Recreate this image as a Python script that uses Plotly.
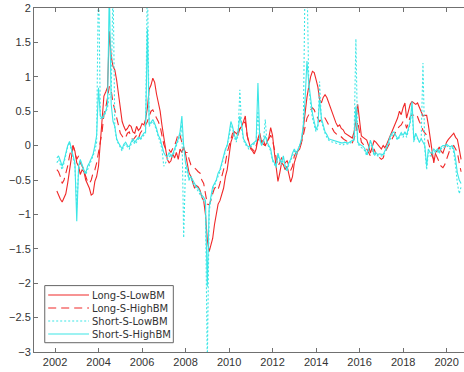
import pandas as pd
import plotly.graph_objects as go

# Month-end observation dates, Jan 2002 .. Aug 2020
dates = pd.date_range("2002-01-31", "2020-08-31", freq="ME")

# Long-S-LowBM
long_low = [
    -0.66, -0.72, -0.78, -0.82, -0.76, -0.70, -0.55, -0.35, -0.15, 0.00, -0.08, -0.25,   # 2002
    -0.30, -0.42, -0.35, -0.38, -0.50, -0.55, -0.62, -0.72, -0.70, -0.52, -0.45, -0.30,  # 2003
    0.05, 0.35, 0.72, 0.78, 0.85, 1.66, 1.30, 1.15, 1.10, 0.95, 0.75, 0.50,             # 2004
    0.35, 0.28, 0.22, 0.25, 0.30, 0.28, 0.20, 0.18, 0.28, 0.22, 0.25, 0.32,             # 2005
    0.30, 0.38, 0.55, 0.82, 0.88, 0.98, 0.92, 0.75, 0.62, 0.50, 0.30, 0.10,             # 2006
    -0.05, -0.20, -0.25, -0.22, -0.12, -0.18, -0.10, -0.20, -0.05, -0.10, -0.02, -0.12,  # 2007
    -0.28, -0.40, -0.45, -0.55, -0.62, -0.58, -0.60, -0.65, -0.75, -0.80, -1.00, -1.37,  # 2008
    -1.54, -1.45, -1.35, -1.15, -1.00, -0.85, -0.80, -0.70, -0.62, -0.45, -0.35, -0.15,  # 2009
    0.05, 0.12, 0.20, 0.18, 0.15, 0.25, 0.28, 0.35, 0.43, 0.15, 0.04, -0.05,            # 2010
    -0.08, -0.12, -0.05, 0.10, 0.18, 0.05, 0.08, 0.00, 0.05, 0.12, 0.26, 0.15,          # 2011
    -0.10, -0.30, -0.52, -0.40, -0.25, -0.28, -0.35, -0.30, -0.42, -0.53, -0.45, -0.25,  # 2012
    -0.16, -0.08, -0.05, 0.04, 0.25, 0.52, 0.70, 0.86, 1.00, 1.08, 1.06, 0.96,          # 2013
    0.85, 0.67, 0.62, 0.70, 0.74, 0.70, 0.62, 0.57, 0.48, 0.38, 0.33, 0.28,             # 2014
    0.30, 0.25, 0.23, 0.18, 0.16, 0.14, 0.12, 0.11, 0.20, 0.35, 0.60, 0.35,             # 2015
    0.14, 0.12, 0.10, 0.08, 0.00, -0.11, -0.02, 0.07, 0.05, 0.02, -0.01, -0.05,         # 2016
    0.00, -0.03, 0.02, 0.08, 0.14, 0.20, 0.28, 0.33, 0.40, 0.50, 0.45, 0.55,            # 2017
    0.62, 0.40, 0.50, 0.60, 0.64, 0.62, 0.60, 0.62, 0.55, 0.48, 0.43, 0.44,             # 2018
    0.44, 0.30, 0.09, -0.10, -0.25, -0.10, -0.07, -0.02, -0.08, -0.11, -0.02, 0.05,     # 2019
    0.09, 0.12, 0.15, 0.18, 0.12, 0.09, -0.05, -0.20,                                   # 2020
]

# Long-S-HighBM
long_high = [
    -0.35, -0.38, -0.45, -0.55, -0.50, -0.40, -0.30, -0.15, -0.05, 0.00, -0.10, -0.20,
    -0.15, -0.25, -0.30, -0.35, -0.45, -0.52, -0.55, -0.50, -0.40, -0.35, -0.25, -0.10,
    0.05, 0.20, 0.45, 0.55, 0.70, 0.86, 0.80, 0.62, 0.52, 0.40, 0.28, 0.18,
    0.14, 0.10, 0.12, 0.18, 0.20, 0.12, 0.08, 0.12, 0.15, 0.10, 0.18, 0.22,
    0.25, 0.30, 0.35, 0.43, 0.50, 0.52, 0.45, 0.40, 0.35, 0.28, 0.15, 0.02,
    -0.05, -0.08, -0.06, -0.10, -0.04, 0.00, 0.08, 0.18, 0.15, 0.05, -0.05, -0.10,
    -0.10, -0.20, -0.28, -0.30, -0.32, -0.35, -0.38, -0.40, -0.50, -0.55, -0.70, -0.85,
    -0.86, -0.80, -0.70, -0.62, -0.60, -0.64, -0.55, -0.45, -0.35, -0.25, -0.10, 0.00,
    0.10, 0.18, 0.20, 0.15, 0.20, 0.25, 0.28, 0.32, 0.35, 0.15, 0.02, -0.03,
    -0.05, -0.08, 0.00, 0.08, 0.12, 0.05, 0.02, 0.00, 0.05, 0.10, 0.15, 0.08,
    -0.05, -0.18, -0.30, -0.25, -0.18, -0.20, -0.25, -0.22, -0.30, -0.36, -0.30, -0.15,
    -0.10, -0.05, 0.00, 0.05, 0.15, 0.30, 0.40, 0.45, 0.52, 0.55, 0.52, 0.45,
    0.40, 0.35, 0.38, 0.42, 0.40, 0.35, 0.30, 0.28, 0.25, 0.20, 0.18, 0.15,
    0.15, 0.12, 0.10, 0.08, 0.06, 0.05, 0.05, 0.04, 0.10, 0.20, 0.35, 0.20,
    0.05, 0.02, 0.00, -0.05, -0.10, -0.15, -0.10, -0.05, -0.12, -0.15, -0.18, -0.20,
    -0.18, -0.10, -0.05, 0.00, 0.05, 0.10, 0.15, 0.20, 0.25, 0.28, 0.30, 0.35,
    0.35, 0.25, 0.35, 0.42, 0.45, 0.44, 0.40, 0.42, 0.35, 0.30, 0.22, 0.18,
    0.15, 0.05, -0.05, -0.15, -0.20, -0.12, -0.18, -0.25, -0.30, -0.32, -0.28, -0.20,
    -0.12, -0.05, -0.02, 0.00, -0.05, -0.10, -0.25, -0.38,
]

# Short-S-LowBM
short_low = [
    -0.25, -0.20, -0.28, -0.35, -0.25, -0.12, -0.02, 0.05, -0.05, -0.18, -0.30, -0.90,
    -0.35, -0.22, -0.30, -0.38, -0.42, -0.35, -0.28, -0.22, -0.15, -0.08, 0.05, 2.60,
    0.40, 0.38, 0.42, 0.48, 0.55, 0.75, 0.70, 2.40, 0.25, 0.08, 0.02, -0.02,
    -0.08, 0.00, 0.02, -0.02, -0.05, 0.02, 0.08, 0.02, 0.05, 0.10, 0.08, 0.12,
    0.15, 0.18, 2.50, 0.28, 0.32, 0.35, 0.30, 0.22, 0.12, 0.05, -0.05, -0.30,
    -0.25, -0.20, -0.15, -0.18, -0.15, -0.08, 0.00, 0.08, 0.15, 0.30, -1.34, -0.30,
    -0.40, -0.50, -0.48, -0.55, -0.58, -0.62, -0.65, -0.70, -0.75, -0.80, -0.85, -3.20,
    -0.95, -0.80, -0.65, -0.58, -0.52, -0.45, -0.38, -0.28, -0.18, -0.08, -0.02, 0.12,
    0.30, 0.25, 0.12, 0.05, 0.15, 0.81, 0.25, 0.08, 0.02, -0.02, -0.05, -0.02,
    0.00, 0.02, 0.05, 0.50, 0.08, 0.02, 0.05, 0.38, 0.02, -0.02, -0.08, -0.22,
    -0.28, -0.32, -0.15, -0.22, -0.28, -0.18, -0.32, -0.38, -0.28, -0.22, -0.15, -0.08,
    -0.15, -0.08, -0.02, 0.08, 0.28, 2.50, 2.50, 0.85, 0.60, 0.40, 0.30, 0.20,
    0.25, 0.93, 0.35, 0.25, 0.18, 0.12, 0.08, 0.06, 0.05, 0.05, 0.04, 0.03,
    0.02, 0.02, 0.01, 0.03, 0.02, 0.02, 0.04, 0.06, 0.08, 1.55, 0.02, 0.00,
    -0.03, -0.04, -0.08, -0.15, -0.08, 0.05, -0.03, -0.15, -0.12, -0.15, -0.15, -0.16,
    -0.15, -0.10, -0.05, 0.02, 0.10, 0.15, 0.17, 0.12, 0.08, 0.12, 0.16, 0.12,
    0.18, 0.12, 0.22, 0.32, 0.55, 0.05, 0.15, 0.10, 0.05, 0.08, 1.20, -0.05,
    -0.35, -0.10, -0.15, -0.15, -0.08, -0.10, -0.08, -0.12, -0.05, -0.02, -0.03, 0.00,
    -0.02, -0.05, -0.02, -0.10, -0.30, -0.55, -0.70, -0.60,
]

# Short-S-HighBM
short_high = [
    -0.18, -0.15, -0.22, -0.30, -0.22, -0.10, 0.00, 0.06, -0.05, -0.15, -0.25, -1.10,
    -0.30, -0.20, -0.28, -0.35, -0.40, -0.30, -0.25, -0.20, -0.13, 0.00, 0.15, 0.84,
    0.43, 0.40, 0.45, 0.50, 0.60, 2.30, 0.60, 0.35, 0.28, 0.10, 0.04, 0.00,
    -0.05, 0.02, 0.05, 0.00, -0.02, 0.05, 0.10, 0.05, 0.08, 0.12, 0.10, 0.15,
    0.18, 0.20, 1.70, 0.30, 0.35, 0.38, 0.32, 0.25, 0.15, 0.10, 0.00, -0.10,
    -0.15, -0.16, -0.10, -0.15, -0.12, -0.05, 0.05, 0.10, 0.20, 0.43, 0.00, -0.25,
    -0.35, -0.49, -0.45, -0.50, -0.55, -0.60, -0.62, -0.68, -0.72, -0.75, -0.80, -2.05,
    -0.90, -0.75, -0.60, -0.55, -0.50, -0.40, -0.35, -0.25, -0.15, -0.05, 0.00, 0.15,
    0.35, 0.28, 0.15, 0.08, 0.20, 0.43, 0.30, 0.10, 0.04, 0.00, -0.02, 0.00,
    0.02, 0.05, 0.07, 0.91, 0.10, 0.00, 0.08, 0.14, 0.05, 0.00, -0.05, -0.20,
    -0.25, -0.30, -0.11, -0.20, -0.25, -0.15, -0.30, -0.35, -0.25, -0.20, -0.11, -0.05,
    -0.11, -0.05, 0.00, 0.10, 0.30, 0.67, 1.23, 0.91, 0.65, 0.47, 0.35, 0.23,
    0.30, 0.67, 0.40, 0.29, 0.20, 0.16, 0.10, 0.09, 0.08, 0.07, 0.07, 0.06,
    0.05, 0.04, 0.04, 0.05, 0.04, 0.04, 0.06, 0.08, 0.09, 0.57, 0.05, 0.02,
    0.00, -0.01, -0.05, -0.13, -0.05, 0.08, 0.00, -0.13, -0.10, -0.13, -0.12, -0.13,
    -0.13, -0.08, -0.02, 0.05, 0.14, 0.18, 0.20, 0.14, 0.10, 0.14, 0.19, 0.15,
    0.20, 0.15, 0.25, 0.35, 0.64, 0.08, 0.18, 0.12, 0.05, 0.10, 0.04, 0.00,
    -0.30, -0.05, -0.10, -0.11, -0.05, -0.08, -0.05, -0.10, -0.02, 0.00, 0.00, 0.02,
    0.00, -0.02, 0.00, -0.05, -0.20, -0.40, -0.50, -0.55,
]

series_names = ["Long-S-LowBM", "Long-S-HighBM", "Short-S-LowBM", "Short-S-HighBM"]
y_ticks = [2, 1.5, 1, 0.5, 0, -0.5, -1, -1.5, -2, -2.5, -3]

RED = "#f02828"
CYAN = "#3ce6e6"
styles = [
    dict(color=RED, width=1.1, dash="solid"),
    dict(color=RED, width=1.1, dash="8px,5px"),
    dict(color=CYAN, width=1.1, dash="2px,2px"),
    dict(color=CYAN, width=1.1, dash="solid"),
]

fig = go.Figure()
for name, vals, st in zip(series_names, [long_low, long_high, short_low, short_high], styles):
    fig.add_trace(go.Scatter(x=dates, y=vals, mode="lines", name=name, line=st,
                             showlegend=False))

axis_common = dict(
    showgrid=False, zeroline=False, showline=True, linecolor="#707070", linewidth=1,
    ticks="inside", ticklen=4, tickcolor="#707070",
    tickfont=dict(family="Liberation Sans, Arial", size=11, color="#333333"),
)

# Compact boxed legend in the lower-left corner of the axes:
# one multi-line label block next to four line samples
leg_font = 10
leg_box = dict(x0=0.025, x1=0.324, y0=0.027, y1=0.193)
leg_center = 0.109
row_step = 1.3 * leg_font / 344          # text line spacing in paper units
leg_rows = [leg_center + row_step * k for k in (1.5, 0.5, -0.5, -1.5)]
leg_line_x = (0.033, 0.128)
leg_text_x = 0.131

shapes = [dict(type="rect", xref="paper", yref="paper", **leg_box,
               line=dict(color="#666666", width=1), fillcolor="white", layer="above")]
for st, yr in zip(styles, leg_rows):
    shapes.append(dict(type="line", xref="paper", yref="paper",
                       x0=leg_line_x[0], x1=leg_line_x[1], y0=yr, y1=yr,
                       line=st, layer="above"))

annotations = [dict(xref="paper", yref="paper", x=leg_text_x, y=leg_center,
                    xanchor="left", yanchor="middle", align="left",
                    text="<br>".join(series_names), showarrow=False,
                    font=dict(family="DejaVu Sans", size=leg_font, color="#333333"))]

fig.update_layout(
    width=464, height=372,
    margin=dict(l=34, r=0, t=8, b=20),
    paper_bgcolor="white", plot_bgcolor="white",
    xaxis=dict(type="date", range=["2001-01-12", "2020-10-19"], mirror="ticks",
               tick0="2002-01-01", dtick="M24", tickformat="%Y", **axis_common),
    yaxis=dict(range=[-3, 2], tickvals=y_ticks, mirror=False, **axis_common),
    shapes=shapes,
    annotations=annotations,
    showlegend=False,
)

fig.write_html("out.html")
